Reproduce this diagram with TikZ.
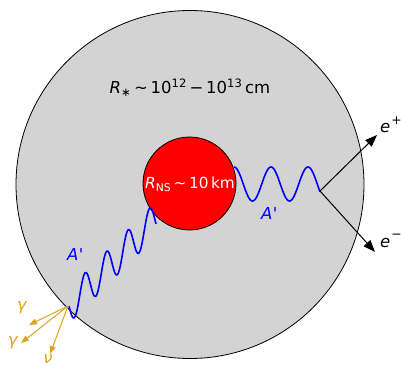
\documentclass[tikz,border=0pt]{standalone}
\usepackage{fontspec}
\usepackage{graphicx}
\setmainfont{DejaVu Sans}
\usetikzlibrary{arrows.meta}
\definecolor{starfill}{HTML}{D3D3D3}
\definecolor{gold}{HTML}{DAA520}
\begin{document}
\begin{tikzpicture}[x=1pt,y=-1pt,
  lbl/.style={inner sep=0pt,font=\fontsize{16.5}{18}\selectfont},
  wave/.style={blue,line width=1.6pt,line join=round},
  pair/.style={black,line width=1pt,-{Triangle[length=12pt,width=9pt]}},
  photon/.style={gold,line width=1pt,-{Triangle[length=8pt,width=6pt]}}]
\useasboundingbox (0,0) rectangle (401,366);
\node[circle,draw=black,line width=0.8pt,fill=starfill,minimum size=348pt,inner sep=0pt] (star) at (190,184.5) {};
\node[circle,draw=black,line width=0.8pt,fill=red,minimum size=93pt,inner sep=0pt] (ns) at (189.5,183.5) {};
\node[lbl,anchor=base] (rstar) at (190,94) {\textit{R}\textsubscript{∗}\,∼\,10\textsuperscript{12}\,−\,10\textsuperscript{13}\,cm};
\node[lbl,text=white,anchor=base,font=\fontsize{15.3}{17}\selectfont] (rns) at (190,189) {\textit{R}\textsubscript{NS}\,∼\,10\,km};
% waves
\draw[wave] plot[domain=69:156,samples=200,smooth] (\x,{375-\x+17*sin((\x-69)*16.744)});
\draw[wave] plot[domain=234:320,samples=150,smooth] (\x,{184-17*cos((\x-234)*9.7297)});
\coordinate (dec) at (320,191);
\coordinate (emit) at (68,306);
\node[lbl,text=blue,anchor=base west] (a1) at (261,219) {\textit{A\kern0.5pt\textquotesingle}};
\node[lbl,text=blue,anchor=base west] (a2) at (67,260) {\textit{A\kern0.5pt\textquotesingle}};
% pair
\coordinate (ep) at (377,135);
\coordinate (em) at (375,252);
\draw[pair] (dec) -- (ep);
\draw[pair] (dec) -- (em);
\node[lbl,anchor=base west] (eplus) at (380,133) {\textit{e}\kern1pt\raisebox{0.5em}{\scalebox{0.75}{+}}};
\node[lbl,anchor=base west] (eminus) at (380,247) {\textit{e}\kern1pt\raisebox{0.5em}{\scalebox{0.75}{−}}};
% photons
\coordinate (g1) at (29,325);
\coordinate (g2) at (21,343);
\coordinate (g3) at (50,354);
\draw[photon] (emit) -- (g1);
\draw[photon] (emit) -- (g2);
\draw[photon] (emit) -- (g3);
\node[lbl,text=gold] (l1) at (22,308) {\textit{γ}};
\node[lbl,text=gold] (l2) at (13,343) {\textit{γ}};
\node[lbl,text=gold] (l3) at (48,359) {\textit{ν}};
\end{tikzpicture}
\end{document}
